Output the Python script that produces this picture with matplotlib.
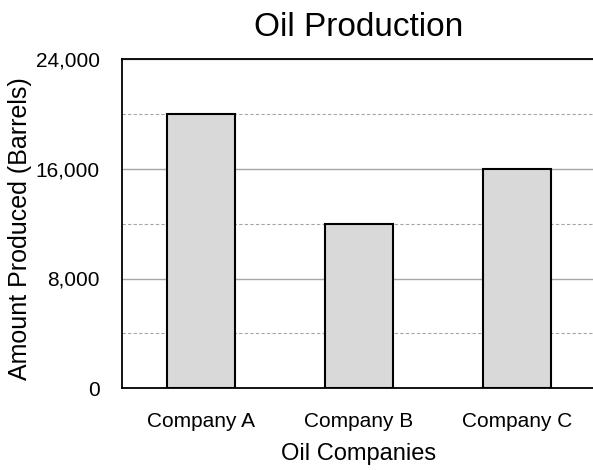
import matplotlib.pyplot as plt
from matplotlib.ticker import MultipleLocator, FuncFormatter

companies = ['Company A', 'Company B', 'Company C']
barrels = [20000, 12000, 16000]

plt.rcParams['font.family'] = ['Liberation Sans', 'DejaVu Sans']

fig = plt.figure(figsize=(5.93, 4.70), dpi=100)
ax = fig.add_axes([122 / 593, 1 - 388 / 470, 474 / 593, (388 - 59.5) / 470])

ax.bar(companies, barrels, width=0.43, color='#d9d9d9', edgecolor='black',
       linewidth=1.5, zorder=3)

ax.set_xlim(-0.5, 2.5)
ax.set_ylim(0, 24000)
ax.yaxis.set_major_locator(MultipleLocator(8000))
ax.yaxis.set_minor_locator(MultipleLocator(4000))
ax.yaxis.set_major_formatter(FuncFormatter(lambda v, p: f'{int(v):,}'))

ax.grid(axis='y', which='major', color='#a6a6a6', linewidth=1, zorder=0)
ax.grid(axis='y', which='minor', color='#a6a6a6', linewidth=0.8,
        linestyle=(0, (3, 2)), zorder=0)

ax.tick_params(axis='both', which='both', length=0)
ax.tick_params(axis='y', labelsize=15, pad=16)
ax.tick_params(axis='x', labelsize=15, pad=17)

ax.spines['right'].set_visible(False)
for s in ['left', 'top', 'bottom']:
    ax.spines[s].set_linewidth(1.3)

ax.set_title('Oil Production', fontsize=24, pad=17)
ax.set_xlabel('Oil Companies', fontsize=17, labelpad=9)
ax.set_ylabel('Amount Produced (Barrels)', fontsize=18)
ax.yaxis.set_label_coords((32 - 122) / 474, (388 - 229) / 328.5)

fig.savefig('out.png', dpi=100)
